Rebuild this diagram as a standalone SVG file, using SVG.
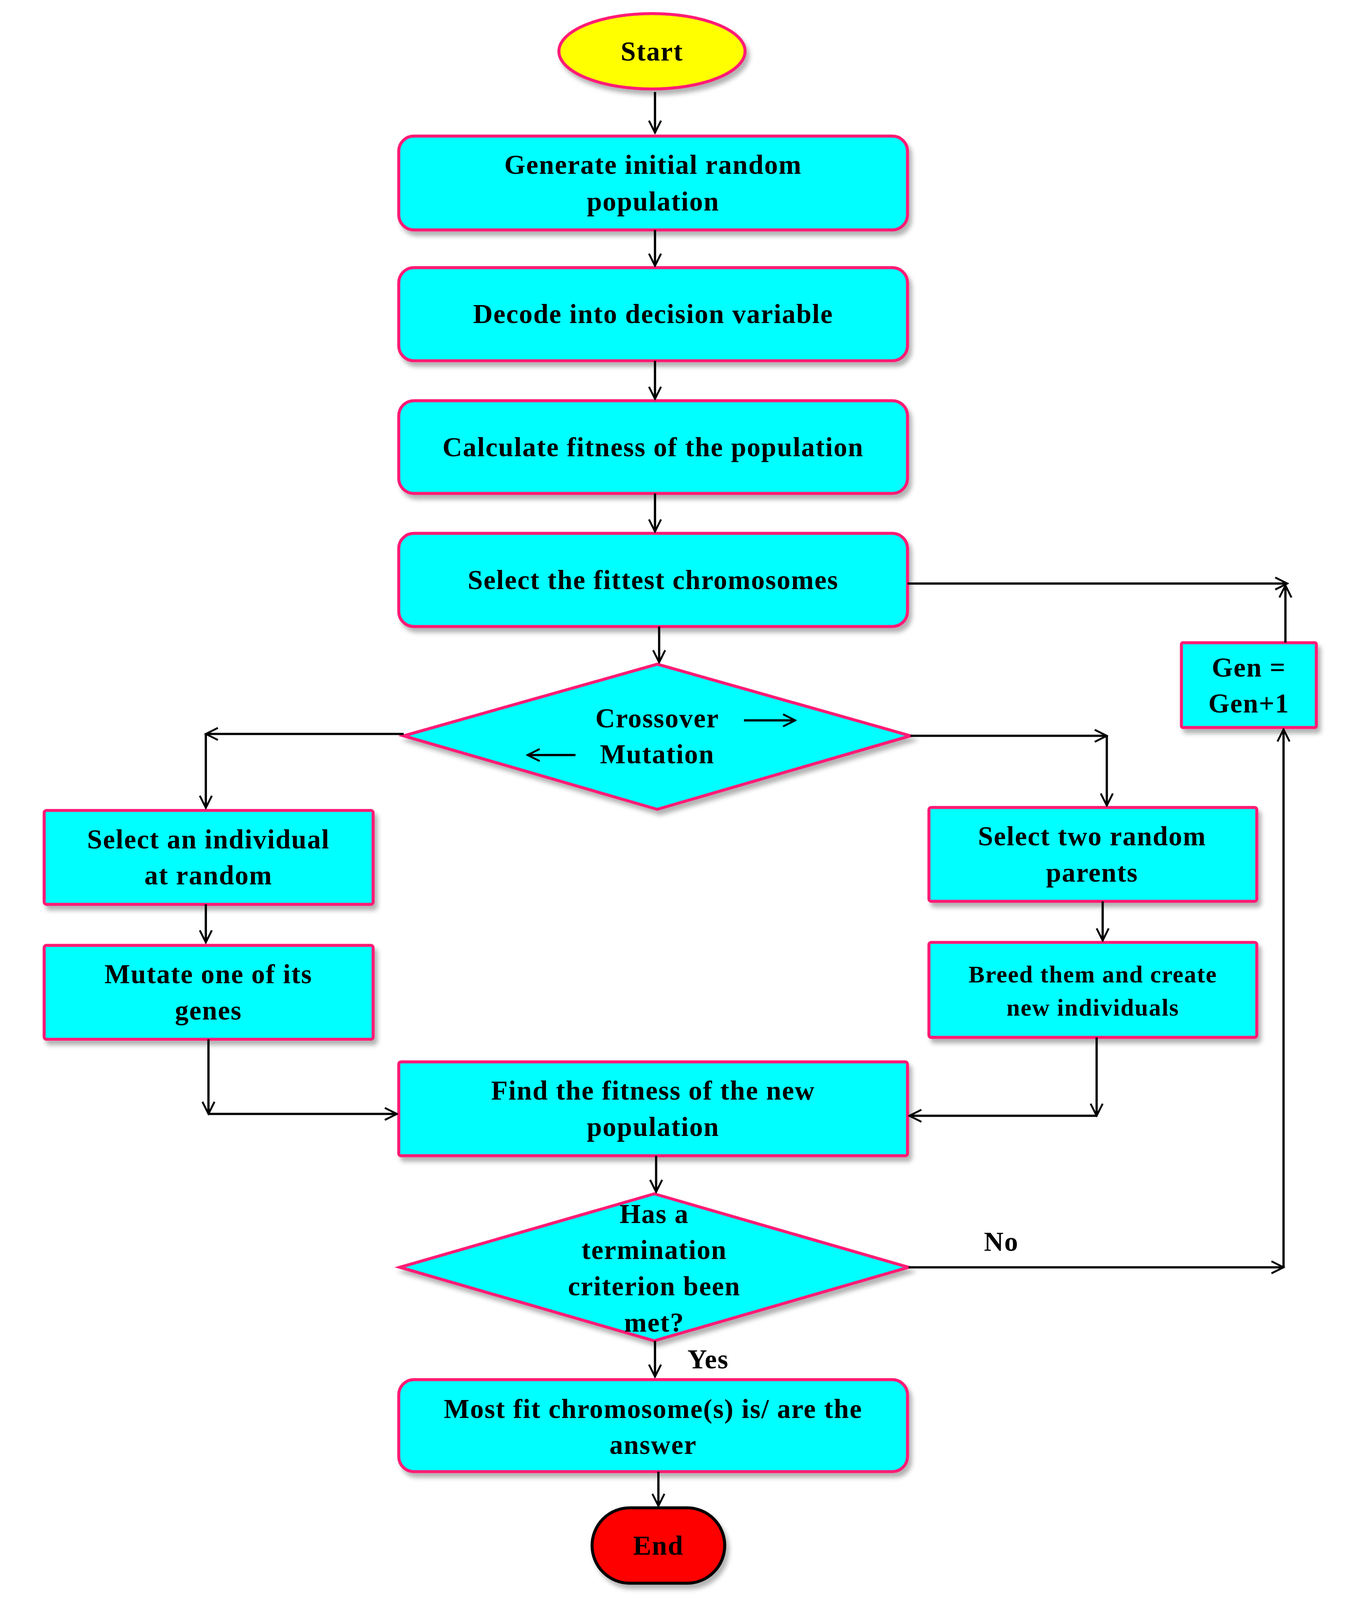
<svg xmlns="http://www.w3.org/2000/svg" width="3470" height="4233" viewBox="0 0 3470 4233">
<defs>
<filter id="sh" x="-10%" y="-10%" width="130%" height="140%"><feDropShadow dx="8" dy="12" stdDeviation="6" flood-color="#000" flood-opacity="0.3"/></filter>
<marker id="ar" viewBox="0 0 20 20" refX="18" refY="10" markerWidth="40" markerHeight="40" markerUnits="userSpaceOnUse" orient="auto"><path d="M2,2 L18,10 L2,18" fill="none" stroke="#000" stroke-width="2.5"/></marker>
</defs>
<style>
.n{fill:#00FFFF;stroke:#FF1A75;stroke-width:8;filter:url(#sh)}
text{font-family:"Liberation Serif",serif;font-weight:bold;font-size:72px;fill:#000;text-anchor:middle;dominant-baseline:central;letter-spacing:2px}
.c{fill:none;stroke:#000;stroke-width:6}
</style>
<rect width="3470" height="4233" fill="#fff"/>
<g transform="translate(61,0) scale(0.965)">
<g id="start"><ellipse class="n" style="fill:#FFFF00" cx="1667" cy="136" rx="247" ry="100"/><text x="1667" y="136">Start</text></g>
<g id="n1"><rect class="n" x="995" y="361" width="1350" height="249" rx="40"/><text x="1670" y="437">Generate initial random</text><text x="1670" y="534">population</text></g>
<g id="n2"><rect class="n" x="995" y="710" width="1350" height="247" rx="40"/><text x="1670" y="833">Decode into decision variable</text></g>
<g id="n3"><rect class="n" x="995" y="1063" width="1350" height="246" rx="40"/><text x="1670" y="1186">Calculate  fitness of the population</text></g>
<g id="n4"><rect class="n" x="995" y="1415" width="1350" height="247" rx="40"/><text x="1670" y="1538">Select the fittest chromosomes</text></g>
<g id="d1"><polygon class="n" points="1008,1952 1681,1762 2353,1952 1681,2147"/><text x="1681" y="1905">Crossover</text><text x="1681" y="2001">Mutation</text></g>
<g id="l1"><rect class="n" x="54" y="2150" width="873" height="249" rx="6"/><text x="490" y="2226">Select an individual</text><text x="490" y="2322">at random</text></g>
<g id="l2"><rect class="n" x="54" y="2508" width="873" height="249" rx="6"/><text x="490" y="2584">Mutate one of its</text><text x="490" y="2680">genes</text></g>
<g id="r1"><rect class="n" x="2402" y="2142" width="870" height="249" rx="6"/><text x="2835" y="2218">Select two random</text><text x="2835" y="2314">parents</text></g>
<g id="r2"><rect class="n" x="2402" y="2500" width="870" height="252" rx="6"/><text x="2837" y="2584" style="font-size:64px">Breed them and create</text><text x="2837" y="2673" style="font-size:64px">new individuals</text></g>
<g id="n5"><rect class="n" x="995" y="2817" width="1350" height="249" rx="6"/><text x="1670" y="2893">Find the fitness of the new</text><text x="1670" y="2989">population</text></g>
<g id="d2"><polygon class="n" points="998,3362 1673,3167 2348,3362 1673,3557"/><text x="1673" y="3220">Has a</text><text x="1673" y="3316">termination</text><text x="1673" y="3412">criterion  been</text><text x="1673" y="3508">met?</text></g>
<g id="n6"><rect class="n" x="995" y="3660" width="1350" height="244" rx="40"/><text x="1670" y="3737">Most fit chromosome(s) is/ are the</text><text x="1670" y="3833">answer</text></g>
<g id="end"><rect class="n" style="fill:#FF0000;stroke:#000" x="1508" y="4000" width="352" height="200" rx="100"/><text x="1684" y="4100">End</text></g>
<g id="gen"><rect class="n" x="3072" y="1705" width="358" height="225" rx="4"/><text x="3251" y="1770">Gen =</text><text x="3251" y="1866">Gen+1</text></g>
<g id="connectors">
<path class="c" marker-end="url(#ar)" d="M1675,244 V352"/>
<path class="c" marker-end="url(#ar)" d="M1675,610 V705"/>
<path class="c" marker-end="url(#ar)" d="M1675,957 V1058"/>
<path class="c" marker-end="url(#ar)" d="M1675,1309 V1410"/>
<path class="c" marker-end="url(#ar)" d="M1686,1662 V1757"/>
<path class="c" marker-end="url(#ar)" d="M2345,1548 H3353"/>
<path class="c" marker-end="url(#ar)" d="M3348,1705 V1553"/>
<path class="c" marker-end="url(#ar)" d="M2348,3362 H3343"/>
<path class="c" marker-end="url(#ar)" d="M3343,3362 V1935"/>
<path class="c" marker-end="url(#ar)" d="M1008,1947 H483"/>
<path class="c" marker-end="url(#ar)" d="M483,1947 V2143"/>
<path class="c" marker-end="url(#ar)" d="M2353,1952 H2874"/>
<path class="c" marker-end="url(#ar)" d="M2874,1952 V2137"/>
<path class="c" marker-end="url(#ar)" d="M483,2399 V2500"/>
<path class="c" marker-end="url(#ar)" d="M2863,2391 V2495"/>
<path class="c" marker-end="url(#ar)" d="M490,2757 V2955"/>
<path class="c" marker-end="url(#ar)" d="M490,2955 H990"/>
<path class="c" marker-end="url(#ar)" d="M2847,2752 V2960"/>
<path class="c" marker-end="url(#ar)" d="M2847,2960 H2350"/>
<path class="c" marker-end="url(#ar)" d="M1678,3066 V3162"/>
<path class="c" marker-end="url(#ar)" d="M1675,3557 V3652"/>
<path class="c" marker-end="url(#ar)" d="M1684,3904 V3995"/>
<path class="c" marker-end="url(#ar)" d="M1911,1911 H2047"/>
<path class="c" marker-end="url(#ar)" d="M1464,2003 H1337"/>
</g>
<text x="2594" y="3294">No</text>
<text x="1816" y="3606">Yes</text>
</g>
</svg>
